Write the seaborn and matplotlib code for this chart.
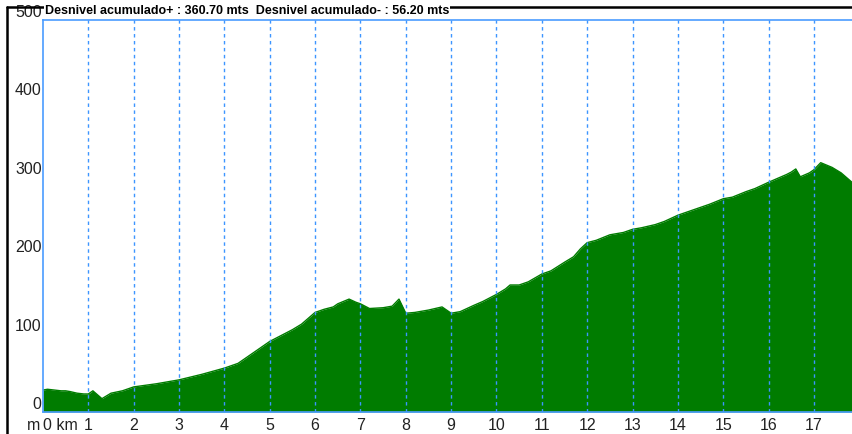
import matplotlib
matplotlib.use("Agg")
import matplotlib.pyplot as plt
import matplotlib.transforms as mtransforms
from matplotlib.lines import Line2D
import seaborn as sns
import pandas as pd

# ---- data ----
km = [0.0, 0.1, 0.25, 0.4, 0.5, 0.6, 0.75, 0.9, 1.0, 1.1, 1.3, 1.5, 1.75, 2.0,
      2.5, 3.0, 3.5, 4.0, 4.3, 4.5, 4.7, 5.0, 5.2, 5.5, 5.7, 6.0, 6.2, 6.4,
      6.5, 6.75, 6.9, 7.0, 7.2, 7.5, 7.7, 7.85, 8.0, 8.2, 8.5, 8.8, 9.0, 9.2,
      9.5, 9.7, 10.0, 10.2, 10.3, 10.5, 10.7, 11.0, 11.2, 11.5, 11.7, 11.85,
      12.0, 12.2, 12.5, 12.8, 13.0, 13.2, 13.5, 13.7, 14.0, 14.2, 14.5, 14.7,
      15.0, 15.2, 15.5, 15.7, 16.0, 16.2, 16.4, 16.5, 16.6, 16.7, 16.9, 17.0,
      17.15, 17.4, 17.6, 17.84]
elev = [28, 29, 28, 27, 27, 26, 24, 23, 23, 27, 17, 24, 27, 32,
        36, 41, 48, 56, 62, 70, 78, 90, 96, 105, 112, 127, 131, 134,
        138, 144, 140, 138, 132, 133, 135, 144, 126, 127, 130, 134, 126, 128,
        136, 141, 150, 157, 162, 162, 166, 176, 180, 191, 198, 208,
        216, 219, 226, 229, 233, 235, 239, 243, 251, 255, 261, 265,
        272, 274, 281, 285, 293, 298, 303, 306, 310, 300, 305, 309,
        318, 312, 305, 293]
xticks = list(range(0, 18))
xtick_labels = ["0 km"] + [str(i) for i in range(1, 18)]
yticks = [0, 100, 200, 300, 400, 500]
ytick_labels = [str(v) for v in yticks]
yunit = "m"
title = "Desnivel acumulado+ : 360.70 mts  Desnivel acumulado- : 56.20 mts"

df = pd.DataFrame({"km": km, "elev": elev})

sns.set_style("white")
plt.rcParams["font.family"] = ["Liberation Sans Narrow", "Liberation Sans", "DejaVu Sans"]
plt.rcParams["lines.scale_dashes"] = False

W, H = 852, 434
fig = plt.figure(figsize=(W / 100, H / 100), dpi=100)
ax = fig.add_axes([43 / W, (H - 412) / H, (W - 43) / W, (412 - 20) / H])

green = "#007c00"
blue = "#4a9cff"
ax.fill_between(df["km"], df["elev"], 0, color=green, lw=0, zorder=2)
sns.lineplot(data=df, x="km", y="elev", color=green, lw=1, ax=ax, zorder=2)

for k in xticks[1:]:
    ax.axvline(k, color="#3d95ff", lw=1, ls=(0, (2.5, 2.5)), zorder=3)

ax.set_xlim(0, 17.84)
ax.set_ylim(0, 500)
ax.set_xlabel("")
ax.set_ylabel("")

ax.set_xticks(xticks)
ax.set_xticklabels(xtick_labels, fontsize=11.5, color="#222222")
ax.set_yticks(yticks)
ax.set_yticklabels(ytick_labels, fontsize=11.5, color="#222222", va="bottom")
ax.tick_params(axis="both", length=0)
ax.tick_params(axis="x", pad=4)
ax.tick_params(axis="y", pad=1)
first = ax.get_xticklabels()[0]
first.set_ha("left")
first.set_transform(first.get_transform() + mtransforms.ScaledTranslation(0 / 100, 0, fig.dpi_scale_trans))
fig.text(27 / W, 1 - 425 / H, yunit, fontsize=11.5, color="#222222", va="center", ha="left")

for side in ["left", "top", "bottom"]:
    ax.spines[side].set_color(blue)
    ax.spines[side].set_linewidth(1.2)
ax.spines["right"].set_visible(False)

# outer black frame (partially cropped)
fig.add_artist(Line2D([7 / W, 1.0], [1 - 6.5 / H, 1 - 6.5 / H], color="black", lw=1.8, transform=fig.transFigure))
fig.add_artist(Line2D([7 / W, 7 / W], [0, 1 - 6.5 / H], color="black", lw=1.8, transform=fig.transFigure))

fig.text(45 / W, 1 - 17 / H, title, fontsize=9, fontweight="bold", color="black",
         va="bottom", ha="left",
         bbox=dict(facecolor="white", edgecolor="none", pad=0.5))

fig.savefig("out.png", dpi=100)
